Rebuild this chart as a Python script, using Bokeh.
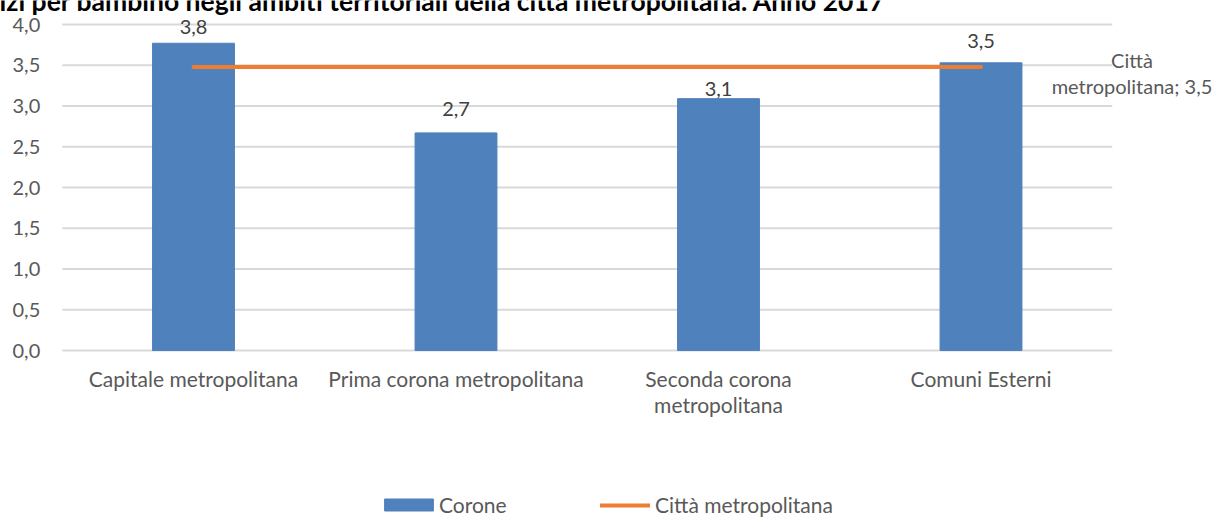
from bokeh.plotting import figure
from bokeh.models import Range1d, Label, Legend, LegendItem, ColumnDataSource
from bokeh.core.properties import value
from bokeh.embed import file_html
from bokeh.resources import INLINE

# ---- data ----
categories = ["Capitale metropolitana", "Prima corona metropolitana",
              "Seconda corona\nmetropolitana", "Comuni Esterni"]
corone = [3.77, 2.67, 3.09, 3.53]
corone_labels = ["3,8", "2,7", "3,1", "3,5"]
citta = [3.48, 3.48, 3.48, 3.48]
citta_label = "Città\nmetropolitana; 3,5"
y_ticks = [0, 0.5, 1, 1.5, 2, 2.5, 3, 3.5, 4]
y_tick_labels = ["0,0", "0,5", "1,0", "1,5", "2,0", "2,5", "3,0", "3,5", "4,0"]
series_names = ["Corone", "Città metropolitana"]
title_text = "izi per bambino negli ambiti territoriali della città metropolitana. Anno 2017"

# ---- layout / style ----
W, H = 1216, 518
X0_PX, CAT_PX = 193, 262.5        # pixel centre of first category, category step
Y0_PX, UNIT_PX = 350, 81.5        # pixel of value 0, pixels per unit
FONT = "Lato"
TXT = "#595959"
VAL = "#404040"
BLUE = "#4f81bd"
ORANGE = "#ed7d31"
GRID = "#d9d9d9"
label_offsets = [-16, -24, -10, -22]

idx = list(range(len(categories)))
x_range = Range1d(-X0_PX / CAT_PX, (W - X0_PX) / CAT_PX)
y_range = Range1d(-(H - Y0_PX) / UNIT_PX, Y0_PX / UNIT_PX)

p = figure(width=W, height=H, x_range=x_range, y_range=y_range,
           x_axis_location=None, y_axis_location=None, min_border=0,
           output_backend="svg", toolbar_location=None, outline_line_color=None)
p.xgrid.visible = False
p.ygrid.visible = False

lo, hi = idx[0] - 0.5, idx[-1] + 0.5

# gridlines (value axis)
p.segment(x0=[lo] * len(y_ticks), x1=[hi] * len(y_ticks), y0=y_ticks, y1=y_ticks,
          line_color=GRID, line_width=2)

# y tick labels
p.text(x=[lo] * len(y_ticks), y=y_ticks, text=y_tick_labels, x_offset=-22,
       text_align="right", text_baseline="middle", text_font=value(FONT),
       text_font_size="20px", text_color=TXT)

src = ColumnDataSource(dict(x=idx, v=corone, lab=corone_labels, c=citta,
                            off=label_offsets, cat=categories))

bars = p.vbar(x="x", top="v", width=0.312, source=src, color=BLUE)
line = p.line(x="x", y="c", source=src, line_color=ORANGE, line_width=4, line_cap="round")

# value labels
p.text(x="x", y="v", text="lab", source=src, text_align="center", text_baseline="middle",
       y_offset="off", text_font=value(FONT), text_font_size="20px", text_color=VAL)

# category labels
p.text(x="x", y=0, text="cat", source=src, text_align="center", text_baseline="top",
       y_offset=15, text_font=value(FONT), text_font_size="21px", text_color=TXT,
       text_line_height=1.05)

# series label at right
p.text(x=[idx[-1]], y=[citta[-1]], text=[citta_label], x_offset=151, y_offset=6,
       text_align="center", text_baseline="middle", text_font=value(FONT),
       text_font_size="20px", text_color=TXT, text_line_height=1.1)

# title (cut at the top edge, as in the reference)
p.add_layout(Label(x=-1, y=H, x_units="screen", y_units="screen", text=title_text,
                   text_font=FONT, text_font_size="26.5px", text_font_style="bold",
                   text_color="#000000", text_baseline="alphabetic"))

leg_common = dict(orientation="horizontal", padding=0, margin=0, border_line_color=None,
                  background_fill_alpha=0, label_text_font=FONT, label_text_font_size="21px",
                  label_text_color=TXT, label_height=12)
legend1 = Legend(items=[LegendItem(label=series_names[0], renderers=[bars])],
                 location=(378, 1), glyph_width=61, glyph_height=15, label_standoff=0,
                 **leg_common)
legend2 = Legend(items=[LegendItem(label=series_names[1], renderers=[line])],
                 location=(600, 1), glyph_width=50, glyph_height=12, label_standoff=5,
                 **leg_common)
p.add_layout(legend1)
p.add_layout(legend2)

open("out.html", "w").write(file_html(p, INLINE))
